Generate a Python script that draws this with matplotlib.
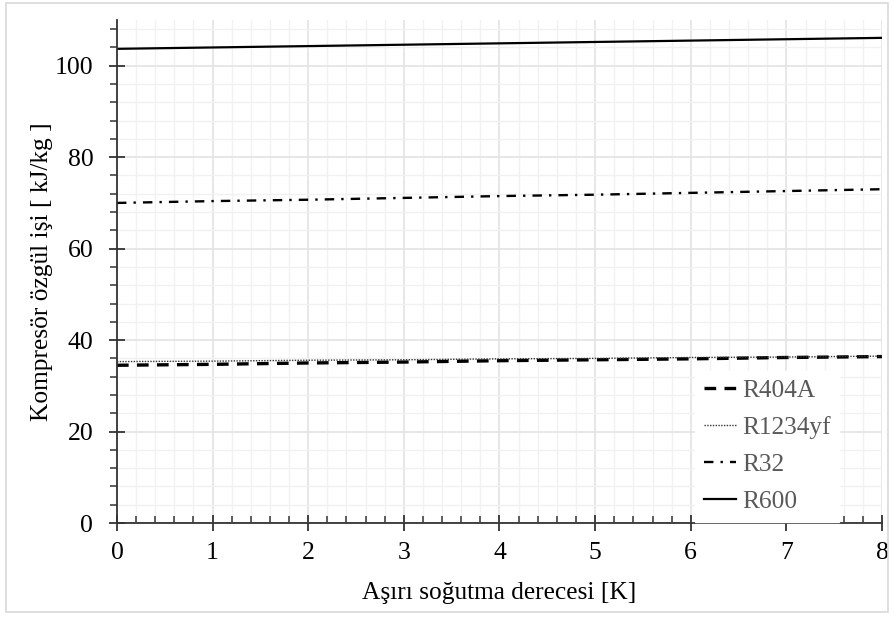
import numpy as np
import matplotlib.pyplot as plt
from matplotlib.ticker import MultipleLocator
from matplotlib.patches import Rectangle

plt.rcParams['font.family'] = ['Liberation Serif', 'DejaVu Serif']

# Aşırı soğutma derecesi [K]
subcool = [0, 1, 2, 3, 4, 5, 6, 7, 8]

# kompresör özgül işi [kJ/kg]
r404a = [34.5, 34.7, 35.0, 35.2, 35.5, 35.7, 35.9, 36.2, 36.4]
r1234yf = [35.3, 35.4, 35.6, 35.7, 35.9, 36.0, 36.2, 36.3, 36.5]
r32 = [70.0, 70.4, 70.7, 71.1, 71.5, 71.8, 72.2, 72.6, 73.0]
r600 = [103.7, 104.0, 104.3, 104.6, 104.9, 105.2, 105.5, 105.8, 106.1]

fig = plt.figure(figsize=(8.95, 6.18), dpi=100)
ax = fig.add_axes([0.1307, 0.1537, 0.8548, 0.8139])

# thin grey frame round the whole figure
fig.patches.append(Rectangle((0.007, 0.01), 0.985, 0.985, transform=fig.transFigure,
                             fill=False, edgecolor='#d9d9d9', linewidth=1.2))

ax.plot(subcool, r404a, color='black', lw=2.4, ls=(0, (3.5, 2.5)), label='R404A')
ax.plot(subcool, r1234yf, color='#333333', lw=1.0, ls=(0, (1, 1)), label='R1234yf')
ax.plot(subcool, r32, color='black', lw=1.7, ls=(0, (4, 3, 1, 3)), label='R32')
ax.plot(subcool, r600, color='black', lw=1.6, ls='-', label='R600')

ax.set_xlim(0, 8)
ax.set_ylim(0, 110)
ax.xaxis.set_major_locator(MultipleLocator(1))
ax.xaxis.set_minor_locator(MultipleLocator(0.2))
ax.yaxis.set_major_locator(MultipleLocator(20))
ax.yaxis.set_minor_locator(MultipleLocator(4))

ax.grid(which='major', color='#e3e3e3', lw=1.2)
ax.grid(which='minor', color='#f1f1f1', lw=1.0)
ax.set_axisbelow(True)

for s in ['top', 'right']:
    ax.spines[s].set_visible(False)
for s in ['left', 'bottom']:
    ax.spines[s].set_color('#333333')
    ax.spines[s].set_linewidth(1.3)

ax.tick_params(axis='both', which='major', direction='inout', length=11, width=1.3,
               color='#333333', labelsize=18.5)
ax.tick_params(axis='x', which='major', pad=8)
ax.tick_params(axis='y', which='major', pad=11.5)
ax.tick_params(axis='x', which='minor', direction='in', length=5, width=1.1, color='#333333')
ax.tick_params(axis='y', which='minor', direction='out', length=5, width=1.1, color='#333333')

ax.set_xlabel('Aşırı soğutma derecesi [K]', fontsize=18.3, labelpad=13)
ax.set_ylabel('Kompresör özgül işi [ kJ/kg ]', fontsize=18.3, labelpad=1)

leg = ax.legend(loc='lower right', bbox_to_anchor=(0.946, 0.0), fontsize=18.3,
                frameon=True, fancybox=False, edgecolor='white', framealpha=1.0,
                handlelength=1.25, handletextpad=0.25, labelspacing=0.55,
                borderpad=0.35, borderaxespad=0.05)
for t in leg.get_texts():
    t.set_color('#595959')

fig.savefig('out.png', dpi=100)
